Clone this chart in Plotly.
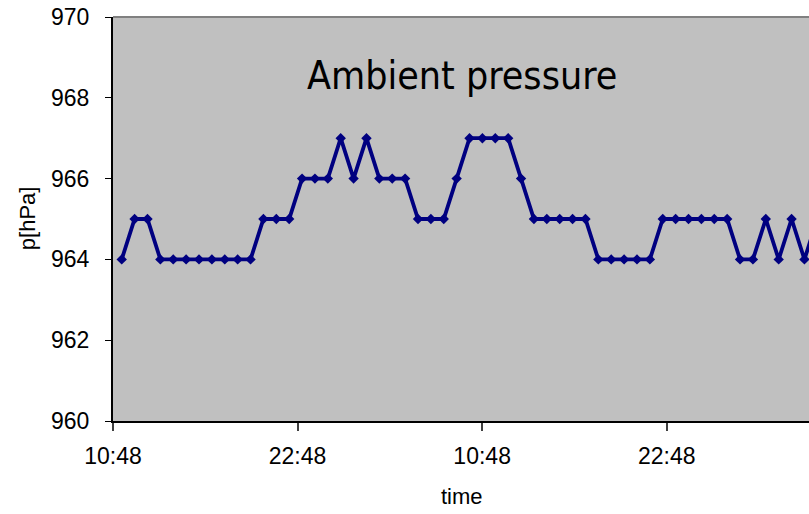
import pandas as pd
import plotly.graph_objects as go

# Data
start_time = "2000-01-01 11:22"
step = "3015s"
pressure = [964, 965, 965, 964, 964, 964, 964, 964, 964, 964, 964,
            965, 965, 965, 966, 966, 966, 967, 966, 967, 966, 966, 966,
            965, 965, 965, 966, 967, 967, 967, 967, 966, 965, 965, 965,
            965, 965, 964, 964, 964, 964, 964, 965, 965, 965, 965, 965,
            965, 964, 964, 965, 964, 965, 964, 965]
times = pd.date_range(start=start_time, periods=len(pressure), freq=step)

x_start = pd.Timestamp("2000-01-01 10:48")
x_end = x_start + pd.Timedelta(minutes=2715)
y_ticks = [960, 962, 964, 966, 968, 970]

fig = go.Figure()
fig.add_trace(go.Scatter(
    x=times, y=pressure, mode="lines+markers",
    line=dict(color="#000080", width=3.8),
    marker=dict(symbol="diamond", size=8, color="#000080"),
    cliponaxis=True, showlegend=False,
))

fig.update_layout(
    width=809, height=514,
    margin=dict(l=113, r=0, t=17, b=93),
    paper_bgcolor="white",
    plot_bgcolor="#C0C0C0",
    font=dict(family="Liberation Sans, Arial, sans-serif", color="black"),
    xaxis=dict(
        range=[x_start, x_end], tick0=x_start, dtick=12 * 3600 * 1000,
        tickformat="%H:%M", showgrid=False, zeroline=False,
        showline=True, linecolor="black", linewidth=2,
        ticks="outside", ticklen=8, tickwidth=2, tickcolor="#404040",
        tickfont=dict(size=23), ticklabelstandoff=5,
    ),
    yaxis=dict(
        range=[960, 970], tickvals=y_ticks, showgrid=False, zeroline=False,
        showline=True, linecolor="black", linewidth=2,
        ticks="outside", ticklen=6, tickwidth=1, tickcolor="black",
        tickfont=dict(size=23), ticklabelstandoff=11,
    ),
    shapes=[dict(type="line", xref="paper", yref="paper", x0=0, x1=1, y0=1, y1=1,
                 line=dict(color="#808080", width=2))],
    annotations=[
        dict(text="Ambient pressure", xref="paper", yref="paper", x=0.5015, y=0.856,
             showarrow=False, xanchor="center", yanchor="middle",
             font=dict(size=39, family="Tahoma, DejaVu Sans Condensed, Liberation Sans, sans-serif")),
        dict(text="p[hPa]", xref="paper", yref="paper", x=-0.1236, y=0.502,
             showarrow=False, xanchor="center", yanchor="middle", textangle=-90,
             font=dict(size=22)),
        dict(text="time", xref="paper", yref="paper", x=0.501, y=-0.188,
             showarrow=False, xanchor="center", yanchor="middle",
             font=dict(size=22)),
    ],
)

fig.write_html("out.html")
